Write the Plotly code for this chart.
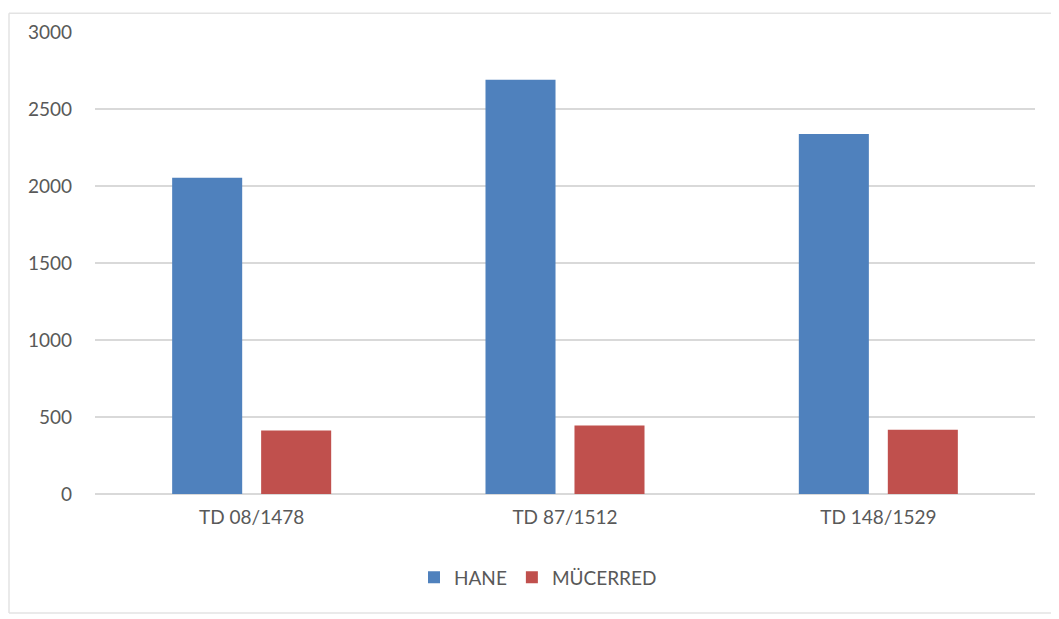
import plotly.graph_objects as go

categories = ["TD 08/1478", "TD 87/1512", "TD 148/1529"]
hane = [2054, 2690, 2337]
mucerred = [412, 444, 418]
y_ticks = [0, 500, 1000, 1500, 2000, 2500, 3000]

FONT = "Lato"
TXT = "#595959"

fig = go.Figure()
fig.add_trace(go.Bar(name="HANE", x=categories, y=hane, marker=dict(color="#4F81BD", line=dict(width=0))))
fig.add_trace(go.Bar(name="MÜCERRED", x=categories, y=mucerred, marker=dict(color="#C0504D", line=dict(width=0))))

# page offset (body margin) compensation
OFF = 8
W, H = 1059 - OFF, 619 - OFF
# target screen positions of plot area
sx0, sx1, sy0, sy1 = 95, 1035, 28, 494
L = sx0 - OFF
T = sy0 - OFF
R = W - (sx1 - OFF)
B = H - (sy1 - OFF)
pw = sx1 - sx0
ph = sy1 - sy0

def px(x):
    return (x - sx0) / pw

def py(y):
    return (sy1 - y) / ph

BORDER = dict(color="#E3E3E3", width=1.5)
fig.update_layout(
    width=W, height=H,
    margin=dict(l=L, r=R, t=T, b=B),
    paper_bgcolor="white", plot_bgcolor="white",
    barmode="group", bargap=0.432, bargroupgap=0.213,
    font=dict(family=FONT, size=19, color=TXT),
    showlegend=True,
    legend=dict(orientation="h", x=px(538), xanchor="center",
                y=py(578), yanchor="middle",
                font=dict(family=FONT, size=19, color=TXT),
                itemwidth=30, traceorder="normal"),
    xaxis=dict(showgrid=False, showline=False, ticks="", tickfont=dict(size=19, color=TXT), ticklabelstandoff=10),
    yaxis=dict(range=[0, 3000], tickvals=y_ticks, showgrid=True, gridcolor="#D9D9D9", gridwidth=1.5,
               zeroline=True, zerolinecolor="#D9D9D9", zerolinewidth=1.5,
               showline=False, ticks="", tickfont=dict(size=19, color=TXT), ticklabelstandoff=22),
    shapes=[
        dict(type="line", xref="paper", yref="paper", x0=px(9), x1=px(9), y0=py(614), y1=py(9), line=BORDER, layer="below"),
        dict(type="line", xref="paper", yref="paper", x0=px(9), x1=px(1059), y0=py(9), y1=py(9), line=BORDER, layer="below"),
        dict(type="line", xref="paper", yref="paper", x0=px(9), x1=px(1059), y0=py(614), y1=py(614), line=BORDER, layer="below"),
    ],
)

fig.write_html("out.html")
